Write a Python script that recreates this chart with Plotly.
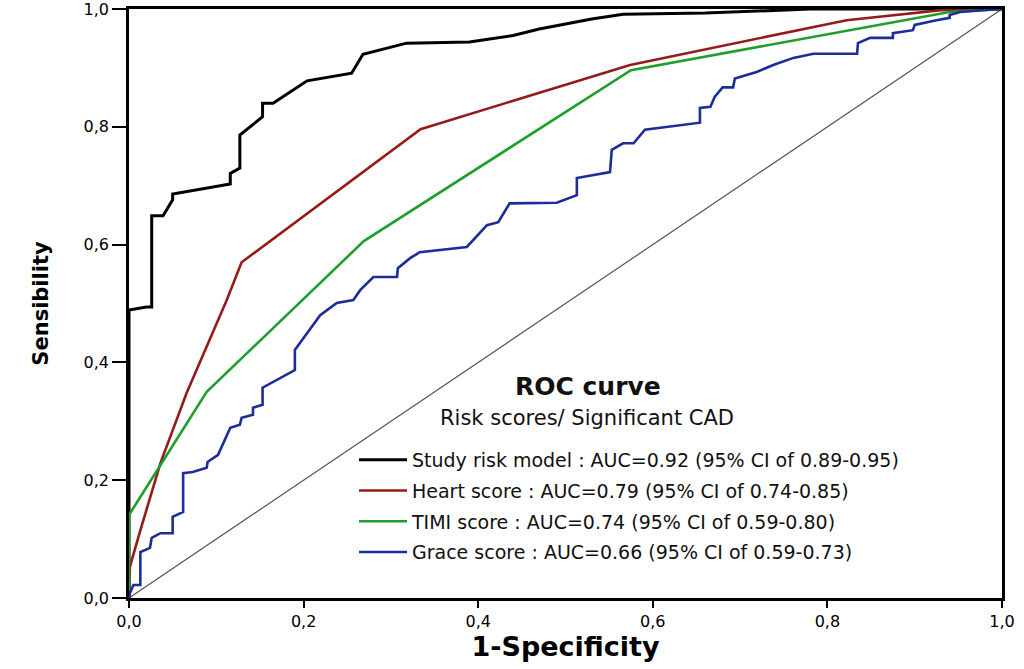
import plotly.graph_objects as go

# ---------------- data ----------------
tick_vals = [0.0, 0.2, 0.4, 0.6, 0.8, 1.0]
tick_text = ["0,0", "0,2", "0,4", "0,6", "0,8", "1,0"]

names = [
    "Study risk model : AUC=0.92 (95% CI of 0.89-0.95)",
    "Heart score : AUC=0.79 (95% CI of 0.74-0.85)",
    "TIMI score : AUC=0.74 (95% CI of 0.59-0.80)",
    "Grace score : AUC=0.66 (95% CI of 0.59-0.73)",
]
colors = ["#000000", "#951b1b", "#1f9e2c", "#1c2c98"]

study_x = [0, 0, 0.02, 0.026, 0.026, 0.039, 0.05, 0.05, 0.116, 0.116, 0.127, 0.127,
           0.153, 0.153, 0.165, 0.204, 0.255, 0.268, 0.318, 0.39, 0.44, 0.47, 0.53,
           0.566, 0.66, 0.78, 1.0]
study_y = [0, 0.489, 0.494, 0.494, 0.649, 0.649, 0.676, 0.686, 0.703, 0.721, 0.730, 0.786,
           0.817, 0.840, 0.840, 0.878, 0.891, 0.923, 0.942, 0.944, 0.955, 0.966, 0.983,
           0.991, 0.993, 1.0, 1.0]

heart_x = [0, 0.001, 0.013, 0.036, 0.066, 0.112, 0.129, 0.334, 0.574, 0.822, 0.93, 1.0]
heart_y = [0, 0.053, 0.115, 0.229, 0.348, 0.506, 0.570, 0.796, 0.905, 0.981, 0.998, 1.0]

timi_x = [0, 0, 0.089, 0.269, 0.575, 0.94, 1.0]
timi_y = [0, 0.141, 0.350, 0.606, 0.896, 0.995, 1.0]

grace_x = [0, 0.001, 0.005, 0.013, 0.013, 0.024, 0.026, 0.036, 0.05, 0.05, 0.062, 0.062,
           0.073, 0.089, 0.09, 0.102, 0.116, 0.127, 0.129, 0.142, 0.142, 0.153, 0.153,
           0.190, 0.190, 0.204, 0.219, 0.238, 0.257, 0.265, 0.28, 0.307, 0.308, 0.322,
           0.333, 0.387, 0.41, 0.423, 0.436, 0.49, 0.513, 0.513, 0.551, 0.553, 0.566,
           0.578, 0.591, 0.654, 0.654, 0.666, 0.671, 0.680, 0.692, 0.694, 0.719, 0.738,
           0.761, 0.784, 0.834, 0.835, 0.849, 0.875, 0.875, 0.898, 0.9, 0.925, 0.94,
           0.94, 0.952, 0.978, 1.0]
grace_y = [0, 0.008, 0.022, 0.022, 0.078, 0.085, 0.102, 0.110, 0.110, 0.138, 0.146, 0.212,
           0.214, 0.221, 0.231, 0.243, 0.289, 0.294, 0.306, 0.311, 0.323, 0.328, 0.357,
           0.387, 0.421, 0.450, 0.480, 0.501, 0.506, 0.523, 0.545, 0.545, 0.560, 0.577,
           0.587, 0.596, 0.633, 0.638, 0.670, 0.671, 0.684, 0.713, 0.723, 0.761, 0.772,
           0.772, 0.795, 0.807, 0.832, 0.834, 0.851, 0.867, 0.867, 0.882, 0.893, 0.905,
           0.917, 0.924, 0.924, 0.942, 0.951, 0.951, 0.959, 0.964, 0.973, 0.981, 0.985,
           0.99, 0.995, 0.998, 1.0]

ref_x = [0, 1]
ref_y = [0, 1]

legend_title = "ROC curve"
legend_subtitle = "Risk scores/ Significant CAD"
x_title = "1-Specificity"
y_title = "Sensibility"

# ---------------- figure ----------------
fig = go.Figure()

fig.add_trace(go.Scatter(x=ref_x, y=ref_y, mode="lines", showlegend=False,
                         line=dict(color="#555555", width=1.2), hoverinfo="skip",
                         cliponaxis=False))

series = [(study_x, study_y), (heart_x, heart_y), (timi_x, timi_y), (grace_x, grace_y)]
widths = [3, 2.6, 2.6, 2.6]
for i, ((xs, ys), nm, col, w) in enumerate(zip(series, names, colors, widths)):
    fig.add_trace(go.Scatter(x=xs, y=ys, mode="lines", name=nm,
                             legendgroup=f"g{i}",
                             line=dict(color=col, width=w), cliponaxis=False))

L, R, T, B = 129, 22, 9, 71
W, H = 1024, 669
pw = W - L - R
ph = H - T - B

def px_to_paper_x(px):
    return (px - L) / pw

def px_to_paper_y(py):
    return (H - B - py) / ph

font_fam = "DejaVu Sans, Liberation Sans, Arial, sans-serif"
bold_fam = "DejaVu Sans, Liberation Sans, Arial, sans-serif"

fig.update_layout(
    width=W, height=H,
    margin=dict(l=L, r=R, t=T, b=B, autoexpand=False),
    paper_bgcolor="white", plot_bgcolor="white",
    font=dict(family=font_fam, color="black", size=16),
    legend=dict(
        x=px_to_paper_x(354), y=px_to_paper_y(441), xanchor="left", yanchor="top",
        bgcolor="rgba(0,0,0,0)", borderwidth=0,
        font=dict(family=font_fam, size=19, color="#111111"),
        traceorder="grouped", tracegroupgap=3, itemwidth=48,
    ),
    annotations=[
        dict(text=f"<b>{legend_title}</b>", x=px_to_paper_x(588), y=px_to_paper_y(403),
             xref="paper", yref="paper", showarrow=False, yanchor="bottom",
             font=dict(family=bold_fam, size=25, color="#111111")),
        dict(text=legend_subtitle, x=px_to_paper_x(587), y=px_to_paper_y(404),
             xref="paper", yref="paper", showarrow=False, yanchor="top",
             font=dict(family=font_fam, size=21, color="#111111")),
    ],
)

fig.update_xaxes(
    range=[0, 1], tickvals=tick_vals, ticktext=tick_text, automargin=False,
    ticklabeloverflow="allow",
    showgrid=False, zeroline=False,
    showline=True, linecolor="black", linewidth=2.5, mirror=True,
    ticks="outside", ticklen=7, tickwidth=1.5, tickcolor="black",
    tickfont=dict(size=16, family=font_fam),
    title=dict(text=f"<b>{x_title}</b>", standoff=6,
               font=dict(size=27, family=bold_fam)),
)
fig.update_yaxes(
    range=[0, 1], tickvals=tick_vals, ticktext=tick_text, automargin=False,
    ticklabeloverflow="allow",
    showgrid=False, zeroline=False,
    showline=True, linecolor="black", linewidth=2.5, mirror=True,
    ticks="outside", ticklen=14, tickwidth=1.5, tickcolor="black",
    tickfont=dict(size=16, family=font_fam),
    title=dict(text=f"<b>{y_title}</b>", standoff=30,
               font=dict(size=21, family=bold_fam)),
)

fig.write_html("out.html", config={"displayModeBar": False},
               post_script="document.body.style.margin='0';")
